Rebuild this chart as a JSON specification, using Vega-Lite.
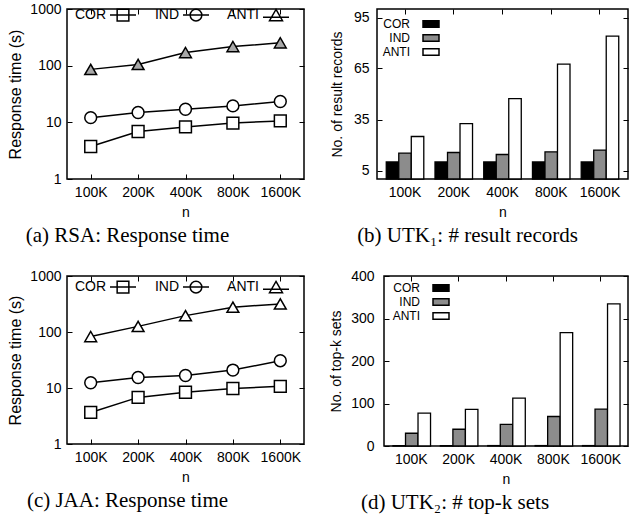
{
  "$schema": "https://vega.github.io/schema/vega-lite/v6.json",
  "padding": {"left": 7, "top": 0, "right": 0, "bottom": 0},
  "background": "white",
  "datasets": {
    "rsa": [
      {"n": "100K", "s": "COR", "t": 3.75}, {"n": "200K", "s": "COR", "t": 6.9}, {"n": "400K", "s": "COR", "t": 8.3}, {"n": "800K", "s": "COR", "t": 9.7}, {"n": "1600K", "s": "COR", "t": 10.6},
      {"n": "100K", "s": "IND", "t": 12.1}, {"n": "200K", "s": "IND", "t": 14.9}, {"n": "400K", "s": "IND", "t": 17}, {"n": "800K", "s": "IND", "t": 19.5}, {"n": "1600K", "s": "IND", "t": 23.3},
      {"n": "100K", "s": "ANTI", "t": 86}, {"n": "200K", "s": "ANTI", "t": 105}, {"n": "400K", "s": "ANTI", "t": 170}, {"n": "800K", "s": "ANTI", "t": 217}, {"n": "1600K", "s": "ANTI", "t": 253}
    ],
    "jaa": [
      {"n": "100K", "s": "COR", "t": 3.66}, {"n": "200K", "s": "COR", "t": 6.8}, {"n": "400K", "s": "COR", "t": 8.4}, {"n": "800K", "s": "COR", "t": 9.8}, {"n": "1600K", "s": "COR", "t": 10.7},
      {"n": "100K", "s": "IND", "t": 12.4}, {"n": "200K", "s": "IND", "t": 15.4}, {"n": "400K", "s": "IND", "t": 16.7}, {"n": "800K", "s": "IND", "t": 20.9}, {"n": "1600K", "s": "IND", "t": 30.7},
      {"n": "100K", "s": "ANTI", "t": 83}, {"n": "200K", "s": "ANTI", "t": 126}, {"n": "400K", "s": "ANTI", "t": 196}, {"n": "800K", "s": "ANTI", "t": 277}, {"n": "1600K", "s": "ANTI", "t": 317}
    ],
    "utk1": [
      {"n": "100K", "s": "COR", "v": 10}, {"n": "200K", "s": "COR", "v": 10}, {"n": "400K", "s": "COR", "v": 10}, {"n": "800K", "s": "COR", "v": 10}, {"n": "1600K", "s": "COR", "v": 10},
      {"n": "100K", "s": "IND", "v": 15.2}, {"n": "200K", "s": "IND", "v": 15.6}, {"n": "400K", "s": "IND", "v": 14.4}, {"n": "800K", "s": "IND", "v": 16}, {"n": "1600K", "s": "IND", "v": 17},
      {"n": "100K", "s": "ANTI", "v": 25}, {"n": "200K", "s": "ANTI", "v": 32.6}, {"n": "400K", "s": "ANTI", "v": 47.3}, {"n": "800K", "s": "ANTI", "v": 67.6}, {"n": "1600K", "s": "ANTI", "v": 84.1}
    ],
    "utk2": [
      {"n": "100K", "s": "COR", "v": 1}, {"n": "200K", "s": "COR", "v": 1}, {"n": "400K", "s": "COR", "v": 1}, {"n": "800K", "s": "COR", "v": 1}, {"n": "1600K", "s": "COR", "v": 1},
      {"n": "100K", "s": "IND", "v": 30}, {"n": "200K", "s": "IND", "v": 39.4}, {"n": "400K", "s": "IND", "v": 51}, {"n": "800K", "s": "IND", "v": 69.4}, {"n": "1600K", "s": "IND", "v": 86.8},
      {"n": "100K", "s": "ANTI", "v": 77.3}, {"n": "200K", "s": "ANTI", "v": 86}, {"n": "400K", "s": "ANTI", "v": 112.8}, {"n": "800K", "s": "ANTI", "v": 266.7}, {"n": "1600K", "s": "ANTI", "v": 334.5}
    ]
  },
  "vconcat": [
    {
      "bounds": "flush",
      "spacing": 73,
      "resolve": {"scale": {"fill": "independent", "shape": "independent"}, "legend": {"fill": "independent", "shape": "independent"}},
      "hconcat": [
        {
          "width": 237, "height": 170,
          "data": {"name": "rsa"},
          "title": {"text": "(a) RSA: Response time", "orient": "bottom", "anchor": "middle", "frame": "group", "dx": -58, "offset": 6, "font": "Liberation Serif", "fontSize": 21, "fontWeight": "normal", "color": "black"},
          "layer": [
            {
              "mark": {"type": "line", "color": "black", "strokeWidth": 1.5},
              "encoding": {
                "x": {"field": "n", "type": "ordinal", "sort": ["100K", "200K", "400K", "800K", "1600K"], "scale": {"type": "point", "padding": 0.5}, "axis": {"title": "n", "labelAngle": 0, "tickSize": -5, "labelPadding": 11, "titlePadding": 6}},
                "y": {"field": "t", "type": "quantitative", "scale": {"type": "log", "domain": [1, 1000]}, "axis": {"title": "Response time (s)", "values": [1, 10, 100, 1000], "format": "d", "tickSize": -5, "labelPadding": 11, "titlePadding": 6, "titleFontSize": 16}},
                "detail": {"field": "s"}
              }
            },
            {
              "mark": {"type": "point", "filled": false, "stroke": "black", "strokeWidth": 1.5, "size": 140, "opacity": 1},
              "encoding": {
                "x": {"field": "n", "type": "ordinal", "sort": ["100K", "200K", "400K", "800K", "1600K"], "scale": {"type": "point", "padding": 0.5}, "axis": {"orient": "top", "labels": false, "title": null, "tickSize": -5}},
                "y": {"field": "t", "type": "quantitative", "scale": {"type": "log", "domain": [1, 1000]}, "axis": {"orient": "right", "labels": false, "title": null, "values": [1, 10, 100, 1000], "tickSize": -5}},
                "fill": {"field": "s", "type": "nominal", "scale": {"domain": ["COR", "IND", "ANTI"], "range": ["white", "white", "#a8a8a8"]}, "legend": null},
                "shape": {"field": "s", "type": "nominal", "scale": {"domain": ["COR", "IND", "ANTI"], "range": ["square", "circle", "triangle-up"]}, "legend": null}
              }
            },
            {
              "mark": {"type": "point", "filled": false, "stroke": "black", "strokeWidth": 1.5, "size": 0, "opacity": 1},
              "encoding": {
                "x": {"field": "n", "type": "ordinal", "sort": ["100K", "200K", "400K", "800K", "1600K"], "scale": {"type": "point", "padding": 0.5}, "axis": null},
                "y": {"field": "t", "type": "quantitative", "scale": {"type": "log", "domain": [1, 1000]}, "axis": null},
                "shape": {"field": "s", "type": "nominal", "scale": {"domain": ["COR", "IND", "ANTI"], "range": ["M-1,0H1M-0.45,-0.45H0.45V0.45H-0.45Z", "M-1,0H1M-0.45,0A0.45,0.45,0,1,0,0.45,0A0.45,0.45,0,1,0,-0.45,0Z", "M-1,0.15H1M0,-0.45L0.5,0.42H-0.5Z"]},
                  "legend": {"orient": "none", "legendX": 42, "legendY": -8, "direction": "horizontal", "title": null, "padding": 0, "symbolSize": 676, "labelAlign": "right", "labelOffset": -31, "columnPadding": 15, "labelFontSize": 14,
                    "encode": {"symbols": {"update": {
                      "fill": {"signal": "datum.value == 'ANTI' ? '#a8a8a8' : 'white'"},
                      "stroke": {"value": "black"}, "strokeWidth": {"value": 1.5}, "size": {"value": 676}, "opacity": {"value": 1}}}}}}
              }
            }
          ],
          "resolve": {"axis": {"x": "independent", "y": "independent"}, "scale": {"shape": "independent"}}
        },
        {
          "width": 251, "height": 170,
          "data": {"name": "utk1"},
          "title": {"text": "(b) UTK₁: # result records", "orient": "bottom", "anchor": "middle", "frame": "group", "dx": -35, "offset": 6, "font": "Liberation Serif", "fontSize": 21, "fontWeight": "normal", "color": "black"},
          "layer": [
            {
              "mark": {"type": "bar", "stroke": "black", "strokeWidth": 1.3},
              "encoding": {
                "x": {"field": "n", "type": "nominal", "sort": ["100K", "200K", "400K", "800K", "1600K"], "scale": {"paddingInner": 0.23, "paddingOuter": 0.19}, "axis": {"title": "n", "labelAngle": 0, "tickSize": -5, "labelPadding": 11, "titlePadding": 6}},
                "xOffset": {"field": "s", "sort": ["COR", "IND", "ANTI"], "scale": {"paddingInner": 0, "paddingOuter": 0}},
                "y": {"field": "v", "type": "quantitative", "scale": {"domain": [0, 100]}, "axis": {"title": "No. of result records", "values": [5, 35, 65, 95], "tickSize": -5, "labelPadding": 13, "titlePadding": 9}},
                "fill": {"field": "s", "type": "nominal", "scale": {"domain": ["COR", "IND", "ANTI"], "range": ["black", "#8c8c8c", "white"]},
                  "legend": {"orient": "none", "legendX": 48, "legendY": 9, "direction": "vertical", "title": null, "padding": 0, "symbolType": "M-2,-0.8H2V0.8H-2Z", "symbolSize": 64, "rowPadding": 0, "labelAlign": "right", "labelOffset": -27, "labelFontSize": 12,
                    "encode": {"symbols": {"update": {
                      "stroke": {"value": "black"}, "strokeWidth": {"value": 1.3}, "size": {"value": 64}, "opacity": {"value": 1}}}}}}
              }
            },
            {
              "mark": {"type": "bar", "opacity": 0},
              "encoding": {
                "x": {"field": "n", "type": "nominal", "sort": ["100K", "200K", "400K", "800K", "1600K"], "scale": {"paddingInner": 0.23, "paddingOuter": 0.19}, "axis": {"orient": "top", "labels": false, "title": null, "tickSize": -5}},
                "xOffset": {"field": "s", "sort": ["COR", "IND", "ANTI"], "scale": {"paddingInner": 0, "paddingOuter": 0}},
                "y": {"field": "v", "type": "quantitative", "scale": {"domain": [0, 100]}, "axis": {"orient": "right", "labels": false, "title": null, "values": [5, 35, 65, 95], "tickSize": -5}}
              }
            }
          ],
          "resolve": {"axis": {"x": "independent", "y": "independent"}}
        }
      ]
    },
    {
      "bounds": "flush",
      "spacing": 80,
      "resolve": {"scale": {"fill": "independent", "shape": "independent"}, "legend": {"fill": "independent", "shape": "independent"}},
      "hconcat": [
        {
          "width": 237, "height": 168,
          "data": {"name": "jaa"},
          "title": {"text": "(c) JAA: Response time", "orient": "bottom", "anchor": "middle", "frame": "group", "dx": -58, "offset": 6, "font": "Liberation Serif", "fontSize": 21, "fontWeight": "normal", "color": "black"},
          "layer": [
            {
              "mark": {"type": "line", "color": "black", "strokeWidth": 1.5},
              "encoding": {
                "x": {"field": "n", "type": "ordinal", "sort": ["100K", "200K", "400K", "800K", "1600K"], "scale": {"type": "point", "padding": 0.5}, "axis": {"title": "n", "labelAngle": 0, "tickSize": -5, "labelPadding": 11, "titlePadding": 6}},
                "y": {"field": "t", "type": "quantitative", "scale": {"type": "log", "domain": [1, 1000]}, "axis": {"title": "Response time (s)", "values": [1, 10, 100, 1000], "format": "d", "tickSize": -5, "labelPadding": 11, "titlePadding": 6, "titleFontSize": 16}},
                "detail": {"field": "s"}
              }
            },
            {
              "mark": {"type": "point", "filled": false, "stroke": "black", "strokeWidth": 1.5, "size": 140, "opacity": 1},
              "encoding": {
                "x": {"field": "n", "type": "ordinal", "sort": ["100K", "200K", "400K", "800K", "1600K"], "scale": {"type": "point", "padding": 0.5}, "axis": {"orient": "top", "labels": false, "title": null, "tickSize": -5}},
                "y": {"field": "t", "type": "quantitative", "scale": {"type": "log", "domain": [1, 1000]}, "axis": {"orient": "right", "labels": false, "title": null, "values": [1, 10, 100, 1000], "tickSize": -5}},
                "fill": {"field": "s", "type": "nominal", "scale": {"domain": ["COR", "IND", "ANTI"], "range": ["white", "white", "white"]}, "legend": null},
                "shape": {"field": "s", "type": "nominal", "scale": {"domain": ["COR", "IND", "ANTI"], "range": ["square", "circle", "triangle-up"]}, "legend": null}
              }
            },
            {
              "mark": {"type": "point", "filled": false, "stroke": "black", "strokeWidth": 1.5, "size": 0, "opacity": 1},
              "encoding": {
                "x": {"field": "n", "type": "ordinal", "sort": ["100K", "200K", "400K", "800K", "1600K"], "scale": {"type": "point", "padding": 0.5}, "axis": null},
                "y": {"field": "t", "type": "quantitative", "scale": {"type": "log", "domain": [1, 1000]}, "axis": null},
                "shape": {"field": "s", "type": "nominal", "scale": {"domain": ["COR", "IND", "ANTI"], "range": ["M-1,0H1M-0.45,-0.45H0.45V0.45H-0.45Z", "M-1,0H1M-0.45,0A0.45,0.45,0,1,0,0.45,0A0.45,0.45,0,1,0,-0.45,0Z", "M-1,0.15H1M0,-0.45L0.5,0.42H-0.5Z"]},
                  "legend": {"orient": "none", "legendX": 42, "legendY": -3, "direction": "horizontal", "title": null, "padding": 0, "symbolSize": 676, "labelAlign": "right", "labelOffset": -31, "columnPadding": 15, "labelFontSize": 14,
                    "encode": {"symbols": {"update": {
                      "fill": {"value": "white"},
                      "stroke": {"value": "black"}, "strokeWidth": {"value": 1.5}, "size": {"value": 676}, "opacity": {"value": 1}}}}}}
              }
            }
          ],
          "resolve": {"axis": {"x": "independent", "y": "independent"}, "scale": {"shape": "independent"}}
        },
        {
          "width": 244, "height": 170,
          "data": {"name": "utk2"},
          "title": {"text": "(d) UTK₂: # top-k sets", "orient": "bottom", "anchor": "middle", "frame": "group", "dx": -51, "offset": 6, "font": "Liberation Serif", "fontSize": 21, "fontWeight": "normal", "color": "black"},
          "layer": [
            {
              "mark": {"type": "bar", "stroke": "black", "strokeWidth": 1.3},
              "encoding": {
                "x": {"field": "n", "type": "nominal", "sort": ["100K", "200K", "400K", "800K", "1600K"], "scale": {"paddingInner": 0.23, "paddingOuter": 0.19}, "axis": {"title": "n", "labelAngle": 0, "tickSize": -5, "labelPadding": 11, "titlePadding": 6}},
                "xOffset": {"field": "s", "sort": ["COR", "IND", "ANTI"], "scale": {"paddingInner": 0, "paddingOuter": 0}},
                "y": {"field": "v", "type": "quantitative", "scale": {"domain": [0, 400]}, "axis": {"title": "No. of top-k sets", "values": [0, 100, 200, 300, 400], "tickSize": -5, "labelPadding": 15, "titlePadding": 7}},
                "fill": {"field": "s", "type": "nominal", "scale": {"domain": ["COR", "IND", "ANTI"], "range": ["black", "#8c8c8c", "white"]},
                  "legend": {"orient": "none", "legendX": 51, "legendY": 6, "direction": "vertical", "title": null, "padding": 0, "symbolType": "M-2,-0.8H2V0.8H-2Z", "symbolSize": 64, "rowPadding": 0, "labelAlign": "right", "labelOffset": -27, "labelFontSize": 12,
                    "encode": {"symbols": {"update": {
                      "stroke": {"value": "black"}, "strokeWidth": {"value": 1.3}, "size": {"value": 64}, "opacity": {"value": 1}}}}}}
              }
            },
            {
              "mark": {"type": "bar", "opacity": 0},
              "encoding": {
                "x": {"field": "n", "type": "nominal", "sort": ["100K", "200K", "400K", "800K", "1600K"], "scale": {"paddingInner": 0.23, "paddingOuter": 0.19}, "axis": {"orient": "top", "labels": false, "title": null, "tickSize": -5}},
                "xOffset": {"field": "s", "sort": ["COR", "IND", "ANTI"], "scale": {"paddingInner": 0, "paddingOuter": 0}},
                "y": {"field": "v", "type": "quantitative", "scale": {"domain": [0, 400]}, "axis": {"orient": "right", "labels": false, "title": null, "values": [0, 100, 200, 300, 400], "tickSize": -5}}
              }
            }
          ],
          "resolve": {"axis": {"x": "independent", "y": "independent"}}
        }
      ]
    }
  ],
  "spacing": 21,
  "resolve": {"scale": {"fill": "independent", "shape": "independent"}, "legend": {"fill": "independent", "shape": "independent"}},
  "config": {
    "font": "Liberation Sans",
    "view": {"stroke": "black", "strokeWidth": 1.5},
    "axis": {"labelFont": "Liberation Sans", "titleFont": "Liberation Sans", "labelFontSize": 14, "titleFontSize": 14, "titleFontWeight": "normal", "labelColor": "black", "titleColor": "black", "domain": false, "grid": false, "tickColor": "black", "tickWidth": 1},
    "legend": {"labelFont": "Liberation Sans", "labelFontSize": 14, "labelColor": "black"}
  }
}
